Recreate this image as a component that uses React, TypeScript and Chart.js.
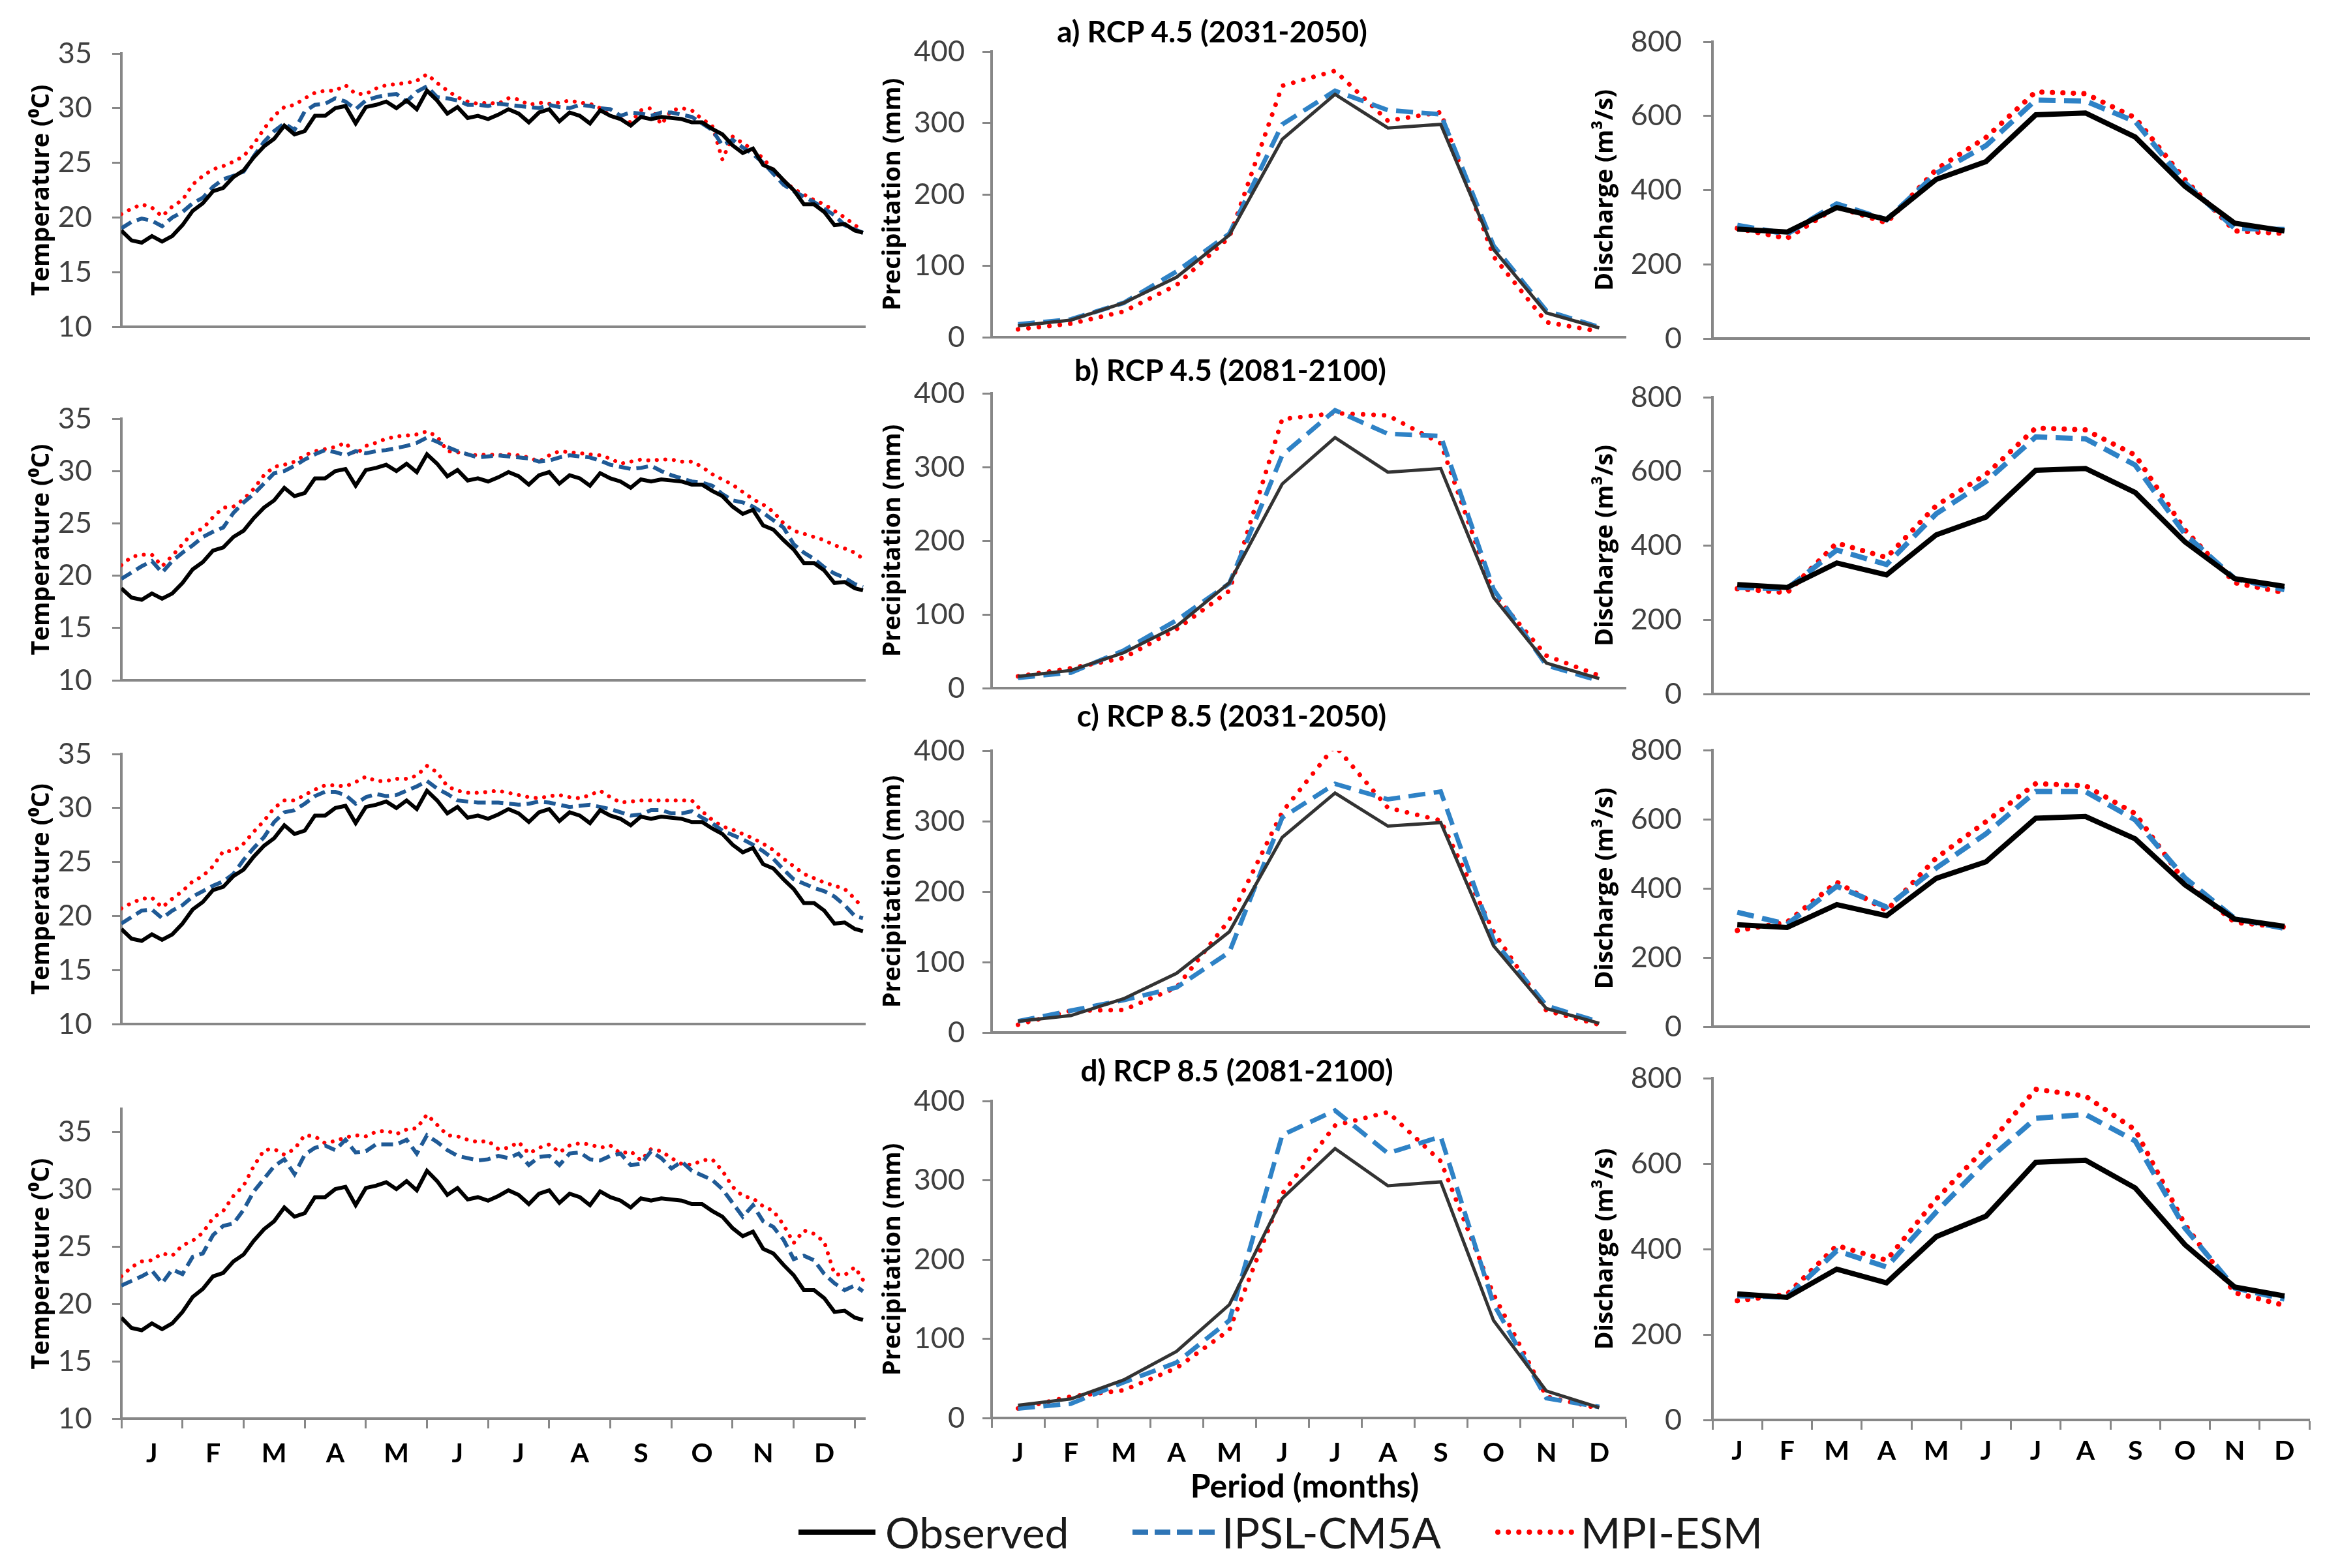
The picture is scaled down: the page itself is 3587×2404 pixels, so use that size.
import React, { useEffect, useRef } from 'react';
import { Chart, registerables } from 'chart.js';

Chart.register(...registerables);
Chart.defaults.font.family = 'Lato';

// ---------------- DATA ----------------
const months = ['J', 'F', 'M', 'A', 'M', 'J', 'J', 'A', 'S', 'O', 'N', 'D'];
const seriesNames = ['Observed', 'IPSL-CM5A', 'MPI-ESM'];
const panelTitles = ['a) RCP 4.5 (2031-2050)', 'b) RCP 4.5 (2081-2100)', 'c) RCP 8.5 (2031-2050)', 'd) RCP 8.5 (2081-2100)'];
const tempTitle = 'Temperature (⁰C)';
const precipTitle = 'Precipitation (mm)';
const dischargeTitle = 'Discharge (m³/s)';
const xTitle = 'Period (months)';

const tempTicks = [10, 15, 20, 25, 30, 35];
const precipTicks = [0, 100, 200, 300, 400];
const dischargeTicks = [0, 200, 400, 600, 800];

// day of year of each temperature sample
const tempDays = [0, 5, 10, 15, 20, 25, 30, 35, 40, 45, 50, 55, 60, 65, 70, 75, 80, 85, 90, 95,
  100, 105, 110, 115, 120, 125, 130, 135, 140, 145, 150, 155, 160, 165, 170, 175, 180, 185, 190, 195,
  200, 205, 210, 215, 220, 225, 230, 235, 240, 245, 250, 255, 260, 265, 270, 275, 280, 285, 290, 295,
  300, 305, 310, 315, 320, 325, 330, 335, 340, 345, 350, 355, 360, 364];

const tempObserved = [18.8, 17.9, 17.7, 18.3, 17.8, 18.3, 19.3, 20.6, 21.3, 22.4,
  22.7, 23.7, 24.3, 25.5, 26.5, 27.2, 28.4, 27.6, 27.9, 29.3,
  29.3, 30.0, 30.2, 28.6, 30.1, 30.3, 30.6, 30.0, 30.7, 29.9,
  31.6, 30.7, 29.5, 30.1, 29.1, 29.3, 29.0, 29.4, 29.9, 29.5,
  28.7, 29.6, 29.9, 28.8, 29.6, 29.3, 28.6, 29.8, 29.3, 29.0,
  28.4, 29.2, 29.0, 29.2, 29.1, 29.0, 28.7, 28.7, 28.1, 27.6,
  26.6, 25.9, 26.3, 24.8, 24.4, 23.4, 22.5, 21.2, 21.2, 20.5,
  19.3, 19.4, 18.8, 18.6];

const tempIpslA = [19.0, 19.6, 19.9, 19.7, 19.2, 20.0, 20.5, 21.3, 21.8, 22.8,
  23.5, 23.8, 24.2, 25.6, 26.9, 27.9, 28.6, 28.0, 29.7, 30.3,
  30.4, 30.9, 30.6, 29.9, 30.7, 31.0, 31.2, 31.3, 30.6, 31.5,
  32.0, 31.0, 30.9, 30.7, 30.3, 30.3, 30.2, 30.4, 30.3, 30.2,
  30.1, 30.0, 30.3, 30.1, 30.0, 30.3, 30.2, 30.0, 29.9, 29.3,
  29.6, 29.5, 29.3, 29.6, 29.6, 29.4, 29.2, 28.6, 28.0, 26.6,
  27.1, 26.4, 25.8, 25.0, 24.0, 23.0, 22.4, 21.9, 21.4, 20.8,
  20.2, 19.3, 18.9, 18.6];
const tempMpiA = [20.3, 20.8, 21.2, 20.9, 20.1, 21.0, 21.6, 23.0, 23.8, 24.4,
  24.7, 25.1, 25.6, 26.7, 28.1, 29.3, 30.1, 30.3, 30.9, 31.4,
  31.6, 31.6, 32.1, 31.3, 31.3, 31.8, 32.1, 32.2, 32.3, 32.5,
  33.1, 32.3, 31.6, 31.0, 30.6, 30.4, 30.5, 30.4, 30.9, 30.8,
  30.3, 30.5, 30.4, 30.5, 30.7, 30.5, 30.4, 30.0, 29.3, 29.0,
  28.7, 29.8, 30.0, 28.5, 29.8, 30.0, 29.8, 29.0, 28.4, 25.3,
  27.4, 26.8, 26.2, 25.4, 24.3, 23.4, 22.6, 22.1, 21.6, 21.2,
  20.6, 20.0, 19.3, 18.8];

const tempIpslB = [19.7, 20.3, 20.9, 21.4, 20.3, 21.4, 22.2, 22.9, 23.7, 24.2,
  24.6, 26.0, 27.0, 27.8, 28.8, 29.8, 30.0, 30.5, 31.1, 31.6,
  32.0, 31.8, 31.5, 31.9, 31.7, 31.9, 32.0, 32.2, 32.4, 32.7,
  33.2, 32.8, 32.3, 31.9, 31.6, 31.3, 31.4, 31.5, 31.4, 31.3,
  31.2, 30.9, 31.0, 31.3, 31.5, 31.4, 31.3, 31.0, 30.6, 30.4,
  30.2, 30.3, 30.5, 30.0, 29.6, 29.3, 29.0, 28.9, 28.6, 27.8,
  27.2, 27.0, 26.6, 26.0, 25.3, 24.6, 23.0, 22.2, 21.6, 20.8,
  20.2, 19.8, 19.2, 18.9];
const tempMpiB = [21.0, 21.8, 22.0, 22.0, 20.9, 21.9, 23.0, 24.1, 24.5, 25.6,
  26.5, 26.6, 27.3, 28.3, 29.6, 30.4, 30.6, 30.9, 31.5, 31.9,
  32.1, 32.3, 32.7, 31.6, 32.4, 32.7, 33.1, 33.3, 33.4, 33.5,
  33.8, 33.3, 31.9, 31.8, 31.6, 31.5, 31.6, 31.5, 31.6, 31.5,
  31.3, 30.9, 31.5, 31.9, 31.8, 31.7, 31.6, 31.5, 31.2, 30.7,
  30.9, 31.1, 31.0, 31.1, 31.1, 30.9, 30.9, 30.4, 29.7, 29.2,
  28.7, 28.0, 27.3, 26.8, 26.1, 25.0, 24.3, 24.0, 23.7, 23.4,
  22.9, 22.6, 22.2, 21.6];

const tempIpslC = [19.3, 19.9, 20.5, 20.6, 19.8, 20.5, 21.0, 21.8, 22.3, 22.8,
  23.2, 23.9, 25.2, 26.3, 27.3, 28.7, 29.6, 29.8, 30.4, 31.1,
  31.5, 31.5, 31.2, 30.4, 31.0, 31.3, 31.1, 31.2, 31.6, 32.0,
  32.5, 31.8, 31.3, 30.7, 30.6, 30.5, 30.5, 30.5, 30.4, 30.3,
  30.4, 30.6, 30.5, 30.3, 30.1, 30.2, 30.3, 30.1, 29.9, 29.6,
  29.3, 29.4, 29.8, 29.8, 29.5, 29.5, 29.7, 29.1, 28.6, 27.9,
  27.5, 27.1, 26.6, 26.0, 25.3, 24.3, 23.4, 23.0, 22.6, 22.3,
  21.8, 21.0, 20.0, 19.8];
const tempMpiC = [20.7, 21.2, 21.6, 21.7, 20.8, 21.6, 22.3, 23.2, 23.7, 24.6,
  26.0, 26.0, 26.7, 27.8, 28.8, 30.0, 30.7, 30.7, 31.2, 31.7,
  32.1, 32.1, 32.0, 32.4, 32.9, 32.5, 32.5, 32.7, 32.7, 33.0,
  33.9, 33.3, 32.0, 31.6, 31.4, 31.4, 31.5, 31.6, 31.4, 31.2,
  31.0, 30.9, 31.1, 31.2, 31.0, 30.9, 31.2, 31.6, 31.0, 30.5,
  30.6, 30.7, 30.7, 30.7, 30.7, 30.7, 30.7, 29.7, 28.9, 28.3,
  28.0, 27.6, 27.2, 26.7, 26.1, 25.3, 24.6, 23.9, 23.5, 23.1,
  22.8, 22.5, 21.6, 20.7];

const tempIpslD = [21.6, 22.0, 22.4, 22.9, 21.8, 23.0, 22.6, 24.1, 24.4, 26.0,
  26.8, 27.0, 28.2, 29.8, 30.9, 32.0, 32.6, 31.3, 33.0, 33.6,
  33.8, 33.4, 34.3, 33.2, 33.3, 33.9, 33.9, 33.9, 34.3, 33.1,
  34.7, 34.1, 33.4, 32.9, 32.7, 32.5, 32.6, 32.9, 32.7, 33.1,
  32.1, 32.8, 32.9, 32.1, 33.1, 33.2, 32.6, 32.5, 32.9, 33.1,
  32.1, 32.2, 33.3, 32.7, 31.8, 32.4, 31.6, 31.2, 30.8, 30.0,
  28.8, 27.6, 28.6, 27.2, 26.7, 25.6, 23.9, 24.2, 23.8, 22.6,
  21.8, 21.2, 21.6, 21.1];
const tempMpiD = [22.4, 23.2, 23.7, 23.8, 24.4, 24.2, 25.1, 25.5, 26.2, 27.5,
  28.1, 29.4, 30.3, 32.0, 33.4, 33.5, 33.0, 33.5, 34.7, 34.6,
  34.0, 34.2, 34.5, 34.7, 34.6, 35.0, 35.1, 34.8, 35.2, 35.3,
  36.5, 35.6, 34.7, 34.6, 34.3, 34.1, 34.2, 33.5, 33.6, 34.1,
  33.1, 33.6, 33.9, 33.2, 33.8, 34.0, 33.9, 33.6, 33.8, 33.1,
  33.3, 32.5, 33.5, 33.3, 32.7, 32.2, 32.1, 32.5, 32.6, 31.6,
  30.2, 29.4, 29.2, 28.5, 28.1, 26.9, 25.3, 26.4, 26.1, 25.4,
  22.6, 22.5, 23.2, 22.1];

const precipObserved = [16, 24, 48, 84, 143, 277, 340, 293, 298, 123, 34, 13];
const precipIpslA = [18, 25, 48, 92, 145, 298, 345, 318, 312, 128, 37, 14];
const precipMpiA = [11, 19, 36, 73, 140, 352, 373, 303, 315, 113, 21, 8];
const precipIpslB = [14, 21, 51, 92, 142, 316, 377, 345, 342, 134, 31, 10];
const precipMpiB = [16, 27, 41, 80, 132, 365, 373, 370, 332, 128, 44, 17];
const precipIpslC = [16, 31, 46, 64, 114, 305, 353, 331, 342, 131, 38, 15];
const precipMpiC = [11, 31, 32, 64, 160, 313, 407, 319, 301, 143, 31, 11];
const precipIpslD = [12, 18, 45, 70, 123, 357, 388, 334, 355, 144, 25, 14];
const precipMpiD = [12, 27, 35, 63, 111, 283, 369, 386, 324, 156, 27, 12];

const dischargeObserved = [295, 287, 353, 321, 429, 477, 603, 608, 543, 410, 311, 290];
const dischargeIpslA = [305, 282, 363, 320, 445, 520, 643, 640, 585, 420, 297, 294];
const dischargeMpiA = [297, 270, 355, 312, 456, 542, 665, 660, 595, 428, 290, 283];
const dischargeIpslB = [287, 284, 388, 349, 486, 573, 693, 688, 617, 431, 311, 281];
const dischargeMpiB = [284, 273, 407, 368, 508, 592, 717, 712, 644, 442, 300, 273];
const dischargeIpslC = [331, 296, 406, 346, 459, 558, 680, 680, 598, 430, 313, 284];
const dischargeMpiC = [278, 302, 418, 336, 488, 593, 703, 697, 616, 418, 302, 288];
const dischargeIpslD = [291, 287, 396, 358, 487, 605, 706, 715, 653, 449, 309, 283];
const dischargeMpiD = [279, 294, 408, 374, 517, 638, 774, 758, 679, 457, 298, 268];

// ---------------- STYLE / LAYOUT ----------------
const AXIS_GRAY = '#878787';
const TICK_TEXT = '#404040';
const BLUE_DARK = '#1F5A96';
const BLUE = '#2E82C6';
const RED = '#FF0000';

const tempCols = { axisX: 186, right: 1326, wy: 150, titlePad: 5, tickPad: 31, labelPad: 14 };
const precipCols = { axisX: 1520, right: 2492, wy: 180, titlePad: 6, tickPad: 27, labelPad: 14 };
const dischCols = { axisX: 2625, right: 3540, wy: 190, titlePad: 3, tickPad: 33, labelPad: 8 };

const tempRows = [[64, 519], [624, 1061], [1138, 1588], [1682, 2175]];
const precipRows = [[65, 531], [589, 1069], [1137, 1597], [1674, 2174]];
const dischRows = [[44, 539], [589, 1084], [1130, 1594], [1633, 2177]];

const PAD_TOP = 40;
const PAD_RIGHT = 10;
const X_H_BOTTOM = 100;

type Geo = { left: number; top: number; width: number; height: number; bottom: boolean };

function geometry(cols: any, row: number[], bottom: boolean): Geo {
  const left = cols.axisX - cols.wy;
  const top = row[0] - PAD_TOP;
  const width = cols.right + PAD_RIGHT - left;
  const height = row[1] + (bottom ? X_H_BOTTOM : 40) - top;
  return { left, top, width, height, bottom };
}

function yScale(cols: any, title: string, min: number, max: number, tickValues: number[]) {
  return {
    position: 'left',
    min,
    max,
    afterFit: (s: any) => { s.width = cols.wy; },
    afterBuildTicks: (s: any) => { s.ticks = tickValues.map((v) => ({ value: v })); },
    ticks: { color: TICK_TEXT, font: { family: 'Lato', size: 45 }, padding: cols.tickPad },
    grid: { drawOnChartArea: false, drawTicks: true, tickLength: 14, tickColor: AXIS_GRAY, tickWidth: 3 },
    border: { color: AXIS_GRAY, width: 4 },
    title: {
      display: true,
      text: title,
      color: '#000',
      font: { family: "'Open Sans', 'DejaVu Sans'", weight: 'bold', size: 38 },
      padding: { top: cols.titlePad, bottom: 0 },
    },
  };
}

const monthTickFont = { family: 'Lato', size: 41, weight: 'bold' };

function baseOptions(bottom: boolean, xScale: any, yS: any) {
  return {
    responsive: false,
    maintainAspectRatio: false,
    animation: false,
    devicePixelRatio: 1,
    layout: { padding: { top: PAD_TOP, right: PAD_RIGHT, bottom: bottom ? 0 : 40, left: 0 } },
    plugins: { legend: { display: false }, tooltip: { enabled: false }, title: { display: false } },
    elements: { point: { radius: 0 }, line: { tension: 0 } },
    scales: { x: xScale, y: yS },
  };
}

function tempConfig(ipsl: number[], mpi: number[], bottom: boolean, yMax: number) {
  const tickVals: number[] = [];
  for (let v = 0; v <= 360; v += 15) tickVals.push(v);
  const toPts = (arr: number[]) => tempDays.map((d, i) => ({ x: d, y: arr[i] }));
  const xScale = {
    type: 'linear',
    position: 'bottom',
    min: 0,
    max: 365,
    afterBuildTicks: (s: any) => { s.ticks = tickVals.map((v) => ({ value: v })); },
    afterFit: (s: any) => { s.height = bottom ? X_H_BOTTOM : 0; },
    ticks: {
      display: bottom,
      autoSkip: false,
      maxRotation: 0,
      minRotation: 0,
      padding: tempCols.labelPad,
      color: '#000',
      font: monthTickFont,
      callback: (v: any) => (v % 30 === 15 ? months[(v - 15) / 30] : ''),
    },
    grid: {
      drawOnChartArea: false,
      drawTicks: bottom,
      tickLength: 15,
      tickWidth: 3,
      tickColor: (ctx: any) => (ctx.tick && ctx.tick.value % 30 === 0 ? AXIS_GRAY : 'rgba(0,0,0,0)'),
    },
    border: { color: AXIS_GRAY, width: 4 },
  };
  return {
    type: 'line',
    data: {
      datasets: [
        { label: seriesNames[0], data: toPts(tempObserved), borderColor: '#000', borderWidth: 6, pointRadius: 0 },
        { label: seriesNames[1], data: toPts(ipsl), borderColor: BLUE_DARK, borderWidth: 6, borderDash: [18, 9], pointRadius: 0 },
        { label: seriesNames[2], data: toPts(mpi), borderColor: RED, borderWidth: 6, borderDash: [0.1, 13], borderCapStyle: 'round', pointRadius: 0 },
      ],
    },
    options: baseOptions(bottom, xScale, yScale(tempCols, tempTitle, 10, yMax, tempTicks)),
  };
}

function catConfig(cols: any, title: string, max: number, tickValues: number[], obs: number[], ipsl: number[], mpi: number[], bottom: boolean, obsColor: string, obsWidth: number, w: number) {
  const xScale = {
    type: 'category',
    position: 'bottom',
    offset: true,
    afterFit: (s: any) => { s.height = bottom ? X_H_BOTTOM : 0; },
    ticks: { display: bottom, autoSkip: false, maxRotation: 0, padding: cols.labelPad, color: '#000', font: monthTickFont },
    grid: { offset: true, drawOnChartArea: false, drawTicks: bottom, tickLength: 15, tickWidth: 3, tickColor: AXIS_GRAY },
    border: { color: AXIS_GRAY, width: 4 },
  };
  return {
    type: 'line',
    data: {
      labels: months,
      datasets: [
        { label: seriesNames[0], data: obs, borderColor: obsColor, borderWidth: obsWidth, pointRadius: 0 },
        { label: seriesNames[1], data: ipsl, borderColor: BLUE, borderWidth: w, borderDash: [26, 13], pointRadius: 0 },
        { label: seriesNames[2], data: mpi, borderColor: RED, borderWidth: w, borderDash: [0.1, 16], borderCapStyle: 'round', pointRadius: 0 },
      ],
    },
    options: baseOptions(bottom, xScale, yScale(cols, title, 0, max, tickValues)),
  };
}

function Panel({ geo, config }: { geo: Geo; config: any }) {
  const ref = useRef<HTMLCanvasElement>(null);
  useEffect(() => {
    const chart = new Chart(ref.current as HTMLCanvasElement, config);
    return () => chart.destroy();
  }, []);
  return (
    <canvas
      ref={ref}
      width={geo.width}
      height={geo.height}
      style={{ position: 'absolute', left: geo.left, top: geo.top, width: geo.width, height: geo.height }}
    />
  );
}

const tempSets = [[tempIpslA, tempMpiA], [tempIpslB, tempMpiB], [tempIpslC, tempMpiC], [tempIpslD, tempMpiD]];
const precipSets = [[precipIpslA, precipMpiA], [precipIpslB, precipMpiB], [precipIpslC, precipMpiC], [precipIpslD, precipMpiD]];
const dischSets = [[dischargeIpslA, dischargeMpiA], [dischargeIpslB, dischargeMpiB], [dischargeIpslC, dischargeMpiC], [dischargeIpslD, dischargeMpiD]];

const titlePos = [[1858, 48], [1886, 567], [1888, 1097], [1896, 1641]];

function TextAt({ x, y, text, size, bold, align, color }: any) {
  const style: any = {
    position: 'absolute',
    top: y - size / 2,
    height: size,
    lineHeight: size + 'px',
    fontFamily: 'Lato',
    fontSize: size,
    fontWeight: bold ? 700 : 400,
    color: color || '#000',
    whiteSpace: 'nowrap',
  };
  if (align === 'center') {
    style.left = x - 1000;
    style.width = 2000;
    style.textAlign = 'center';
  } else {
    style.left = x;
  }
  return <div style={style}>{text}</div>;
}

export default function App() {
  const panels: any[] = [];
  for (let r = 0; r < 4; r++) {
    const bottom = r === 3;
    panels.push(
      <Panel key={'t' + r} geo={geometry(tempCols, tempRows[r], bottom)} config={tempConfig(tempSets[r][0], tempSets[r][1], bottom, r === 3 ? 37 : 35)} />
    );
    panels.push(
      <Panel key={'p' + r} geo={geometry(precipCols, precipRows[r], bottom)}
        config={catConfig(precipCols, precipTitle, 400, precipTicks, precipObserved, precipSets[r][0], precipSets[r][1], bottom, '#333333', 5, 7)} />
    );
    panels.push(
      <Panel key={'d' + r} geo={geometry(dischCols, dischRows[r], bottom)}
        config={catConfig(dischCols, dischargeTitle, 800, dischargeTicks, dischargeObserved, dischSets[r][0], dischSets[r][1], bottom, '#000000', 8, 8)} />
    );
  }
  return (
    <div style={{ position: 'fixed', left: 0, top: 0, width: 3587, height: 2404, background: '#fff', overflow: 'hidden' }}>
      {panels}
      {panelTitles.map((t, i) => (
        <TextAt key={'title' + i} x={titlePos[i][0]} y={titlePos[i][1]} text={t} size={46} bold align="center" />
      ))}
      <TextAt x={2000} y={2277} text={xTitle} size={50} bold align="center" />
      <svg style={{ position: 'absolute', left: 1200, top: 2300, width: 1300, height: 100 }} width={1300} height={100}>
        <line x1={24} y1={49} x2={142} y2={49} stroke="#000" strokeWidth={8} />
        <line x1={536} y1={49} x2={662} y2={49} stroke="#2E75B6" strokeWidth={8} strokeDasharray="24 10" />
        <line x1={1096} y1={49} x2={1213} y2={49} stroke={RED} strokeWidth={8} strokeDasharray="0.1 16" strokeLinecap="round" />
      </svg>
      <TextAt x={1357} y={2349} text={seriesNames[0]} size={66} color="#1a1a1a" />
      <TextAt x={1873} y={2349} text={seriesNames[1]} size={66} color="#1a1a1a" />
      <TextAt x={2423} y={2349} text={seriesNames[2]} size={66} color="#1a1a1a" />
    </div>
  );
}
